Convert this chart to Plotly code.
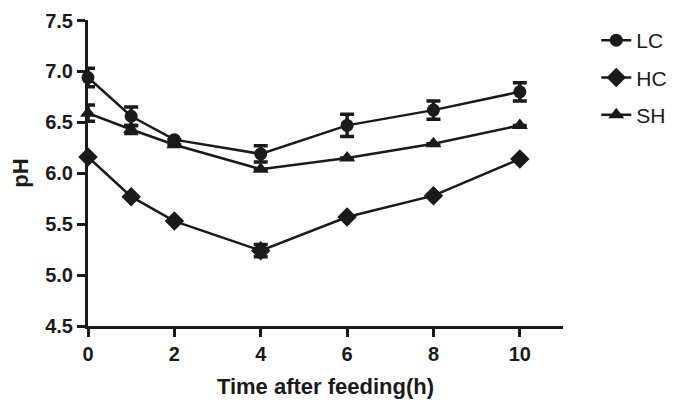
import plotly.graph_objects as go

time_h = [0, 1, 2, 4, 6, 8, 10]
lc_ph = [6.94, 6.56, 6.33, 6.19, 6.47, 6.62, 6.80]
lc_err = [0.09, 0.09, 0.0, 0.08, 0.11, 0.09, 0.09]
hc_ph = [6.16, 5.77, 5.53, 5.24, 5.57, 5.78, 6.14]
hc_err = [0.0, 0.0, 0.0, 0.06, 0.0, 0.0, 0.0]
sh_ph = [6.59, 6.43, 6.28, 6.04, 6.15, 6.29, 6.47]
sh_err = [0.08, 0.04, 0.0, 0.0, 0.0, 0.0, 0.0]

x_ticks = [0, 2, 4, 6, 8, 10]
y_ticks = [4.5, 5.0, 5.5, 6.0, 6.5, 7.0, 7.5]

series = [
    ("LC", lc_ph, lc_err, "circle", 13),
    ("HC", hc_ph, hc_err, "diamond", 15),
    ("SH", sh_ph, sh_err, "triangle-up", 14),
]

INK = "#1a1a1a"
FAM = "Liberation Sans, Arial, sans-serif"

fig = go.Figure()
for name, ys, errs, sym, sz in series:
    fig.add_trace(go.Scatter(
        x=time_h, y=ys, name=name, mode="lines+markers",
        legendgroup=name,
        line=dict(color=INK, width=2.5),
        marker=dict(symbol=sym, size=sz, color=INK),
        error_y=dict(type="data", array=errs, visible=True,
                     color=INK, thickness=3.5, width=7),
    ))

fig.update_layout(
    width=677, height=392,
    margin=dict(l=80, r=122, t=12, b=74),
    paper_bgcolor="white", plot_bgcolor="white",
    font=dict(family=FAM, color=INK),
    legend=dict(x=1.07, y=1.0, xanchor="left", yanchor="top",
                font=dict(size=21, family=FAM, color=INK),
                tracegroupgap=7, bgcolor="rgba(0,0,0,0)"),
    xaxis=dict(range=[0, 11], tickvals=x_ticks,
               ticktext=[f"<b>{v}</b>" for v in x_ticks],
               showline=True, linecolor=INK, linewidth=3,
               ticks="outside", ticklen=8, tickwidth=3, tickcolor=INK,
               showgrid=False, zeroline=False, automargin=False,
               tickfont=dict(size=20, family=FAM, color=INK),
               title=dict(text="<b>Time after feeding(h)</b>", font=dict(size=22, family=FAM, color=INK), standoff=15)),
    yaxis=dict(range=[4.5, 7.505], tickvals=y_ticks,
               ticktext=[f"<b>{v:.1f}</b>" for v in y_ticks],
               showline=True, linecolor=INK, linewidth=3,
               ticks="outside", ticklen=8, tickwidth=3, tickcolor=INK,
               showgrid=False, zeroline=False, automargin=False,
               ticklabeloverflow="allow",
               tickfont=dict(size=20, family=FAM, color=INK),
               title=dict(text="<b>pH</b>", font=dict(size=22, family=FAM, color=INK), standoff=23)),
)
fig.update_traces(cliponaxis=False)
fig.write_html("out.html")
